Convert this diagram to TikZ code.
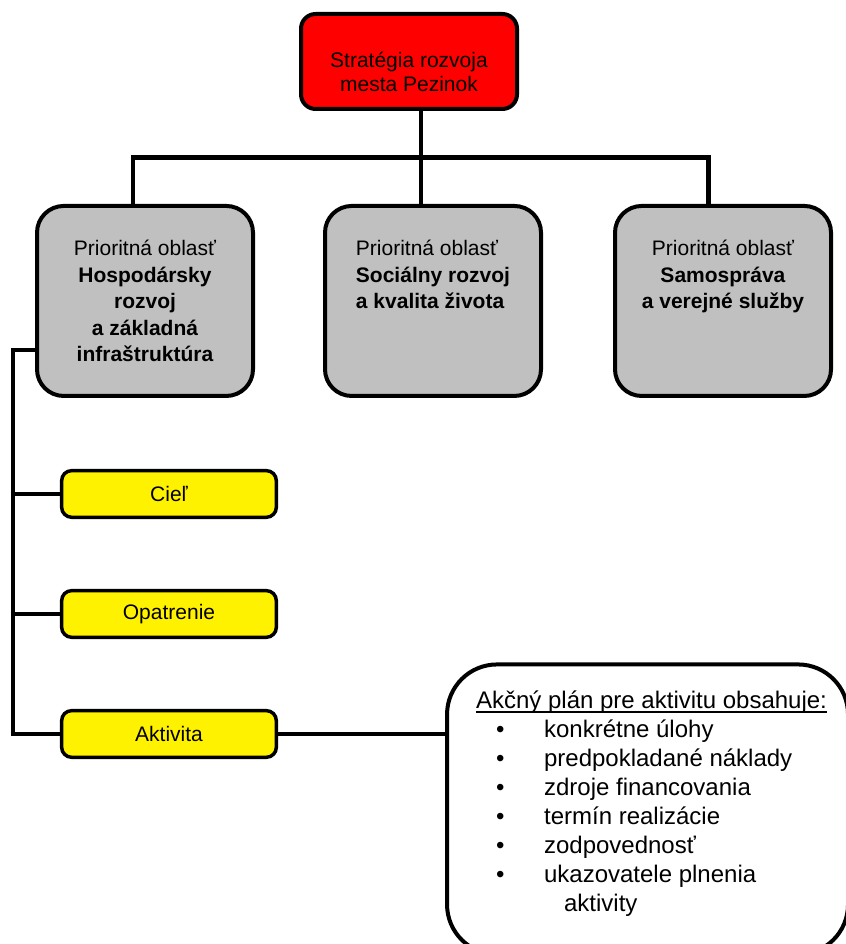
\documentclass[tikz,border=0pt]{standalone}
\usepackage{fontspec}
\setmainfont{Liberation Sans}
\usepackage{tikz}
\usetikzlibrary{positioning, calc}
\usepackage{xcolor}
\definecolor{areagray}{RGB}{192,192,192}
\newcommand{\planhead}[1]{\hspace*{6pt}\setbox0\hbox{#1}\rlap{\rule[-3pt]{\wd0}{1pt}}\box0}
\newcommand{\planitem}[1]{\hspace*{21pt}\makebox[36pt][l]{\textbullet}#1}
\tikzset{
    strategy/.style = {rectangle, rounded corners=11pt, minimum width=162pt, minimum height=71.25pt, align=center, draw=black, line width=3pt, fill=red, font=\fontsize{15.75pt}{18pt}\selectfont, text height=45.5pt},
    area/.style = {rectangle, rounded corners=20pt, minimum width=162pt, minimum height=142.5pt, align=center, draw=black, line width=3pt, fill=areagray, font=\fontsize{15.75pt}{19.9pt}\selectfont},
    task/.style = {rectangle, rounded corners=7.5pt, minimum width=161pt, minimum height=35pt, align=center, draw=black, line width=2.6pt, fill=yellow, font=\fontsize{15.75pt}{18pt}\selectfont},
    planbox/.style = {rectangle, rounded corners=37.5pt, minimum width=300.75pt, minimum height=217.5pt, align=left, draw=black, line width=3pt, fill=white, font=\fontsize{18pt}{21.75pt}\selectfont, text depth=12pt},
    link/.style = {line width=3.5pt}
}
\begin{document}
\begin{tikzpicture}[node distance=90pt]
\useasboundingbox (0,0) rectangle (633.75pt,-708pt);
\node (top) [strategy] at (306.75pt,-46.125pt) {Stratégia rozvoja\\mesta Pezinok};
\node (area2) [area, below of=top, xshift=18pt, yshift=-89.6pt, align=left, text depth=39.8pt] {Prioritná oblasť\\\textbf{Sociálny rozvoj}\\\textbf{a kvalita života}};
\node (area1) [area, left of=area2, xshift=-126pt] {Prioritná oblasť\\\textbf{Hospodársky}\\\textbf{rozvoj}\\\textbf{a základná}\\\textbf{infraštruktúra}};
\node (area3) [area, right of=area2, xshift=127.5pt, text depth=39.8pt] {Prioritná oblasť\\\textbf{Samospráva}\\\textbf{a verejné služby}};
\node (goal) [task, below of=area1, xshift=18pt, yshift=-54.75pt] {Cieľ};
\node (measure) [task, below of=goal] {Opatrenie};
\node (activity) [task, below of=measure] {Aktivita};
\node (plan) [planbox, right of=activity, xshift=268.9pt, yshift=-56.6pt] {\planhead{Akčný plán pre aktivitu obsahuje:}\\
\planitem{konkrétne úlohy}\\
\planitem{predpokladané náklady}\\
\planitem{zdroje financovania}\\
\planitem{termín realizácie}\\
\planitem{zodpovednosť}\\
\planitem{ukazovatele plnenia}\\
\hspace*{72pt}aktivity};

\coordinate (bus) at ($([xshift=9pt]top.south)!0.5!([xshift=-9pt]area2.north)$);
\coordinate (spine) at ([xshift=-16.5pt, yshift=-36.75pt]area1.west);

\draw [link] ([xshift=9pt]top.south) -- ([xshift=-9pt]area2.north);
\draw [link] ([xshift=-9pt]area1.north) |- (bus) -| ([xshift=-11pt]area3.north);
\draw [link] ([yshift=-36.75pt]area1.west) -- (spine) |- (activity.west);
\draw [link] (spine |- goal.west) -- (goal.west);
\draw [link] (spine |- measure.west) -- (measure.west);
\draw [link] (activity.east) -- (activity.east -| plan.west);
\end{tikzpicture}
\end{document}
